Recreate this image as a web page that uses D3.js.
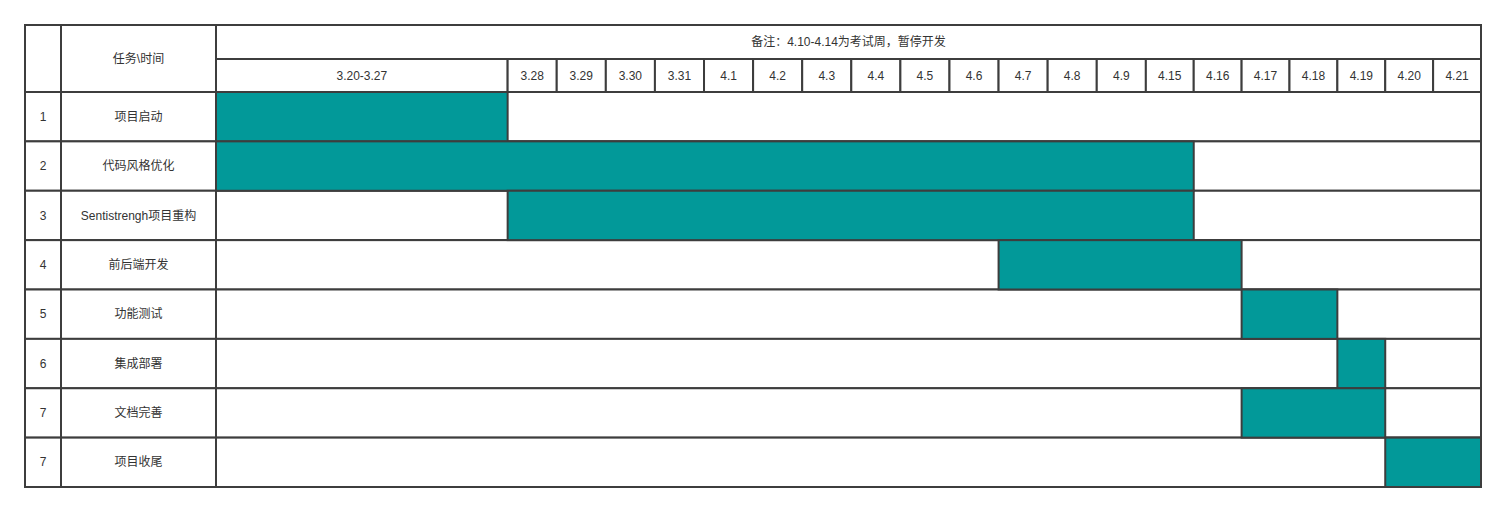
<!DOCTYPE html>
<meta charset="utf-8">
<style>
    body {margin: 0; background: #fff;}
    text {font-family: Arial, "Liberation Sans", "Noto Sans CJK SC", sans-serif; font-size: 12px; fill: #333;}
</style>
<svg width="1506" height="511"></svg>
<script src="https://d3js.org/d3.v7.min.js"></script>
<script>

// data
var note = "备注：4.10-4.14为考试周，暂停开发";
var headerTask = "任务\\时间";
var dateCols = ["3.20-3.27", "3.28", "3.29", "3.30", "3.31", "4.1", "4.2", "4.3", "4.4", "4.5", "4.6",
    "4.7", "4.8", "4.9", "4.15", "4.16", "4.17", "4.18", "4.19", "4.20", "4.21"];
var taskIds = ["1", "2", "3", "4", "5", "6", "7", "7"];
var taskNames = ["项目启动", "代码风格优化", "Sentistrengh项目重构", "前后端开发", "功能测试", "集成部署", "文档完善", "项目收尾"];
var taskStart = ["3.20-3.27", "3.20-3.27", "3.28", "4.7", "4.17", "4.19", "4.17", "4.20"];
var taskEnd = ["3.20-3.27", "4.15", "4.15", "4.16", "4.18", "4.19", "4.19", "4.21"];

var svg = d3.select("svg");

var tLeft = 25, tRight = 1481, tTop = 25, tBottom = 487,
    idW = 36, nameW = 155,
    noteH = 34, dateH = 33;
var gridLeft = tLeft + idW + nameW;
var bodyTop = tTop + noteH + dateH;
var stroke = "#3d3d3d", teal = "#029999";

// column widths: merged first column is six units, the later days a bit narrower
var colUnits = dateCols.map(function(d, i) { return i === 0 ? 6 : (i <= 13 ? 1.01 : 0.985); });
var edges = [0].concat(Array.from(d3.cumsum(colUnits)));
var x = d3.scaleLinear().domain([0, d3.sum(colUnits)]).range([gridLeft, tRight]);
function colX0(label) { return x(edges[dateCols.indexOf(label)]); }
function colX1(label) { return x(edges[dateCols.indexOf(label) + 1]); }

var y = d3.scaleBand().domain(d3.range(taskNames.length)).range([bodyTop, tBottom]);

var g = svg.append("g");

// header cells
g.append("rect").attr("x", tLeft).attr("y", tTop).attr("width", idW).attr("height", noteH + dateH)
    .attr("fill", "#fff").attr("stroke", stroke).attr("stroke-width", 2);
g.append("rect").attr("x", tLeft + idW).attr("y", tTop).attr("width", nameW).attr("height", noteH + dateH)
    .attr("fill", "#fff").attr("stroke", stroke).attr("stroke-width", 2);
g.append("text").attr("x", tLeft + idW + nameW / 2).attr("y", tTop + (noteH + dateH) / 2 + 1)
    .attr("text-anchor", "middle").attr("dominant-baseline", "middle").text(headerTask);

g.append("rect").attr("x", gridLeft).attr("y", tTop).attr("width", tRight - gridLeft).attr("height", noteH)
    .attr("fill", "#fff").attr("stroke", stroke).attr("stroke-width", 2);
g.append("text").attr("x", (gridLeft + tRight) / 2).attr("y", tTop + noteH / 2 + 1)
    .attr("text-anchor", "middle").attr("dominant-baseline", "middle").text(note);

var dates = g.append("g").selectAll("g").data(dateCols).enter().append("g");
dates.append("rect")
    .attr("x", function(d) { return colX0(d); })
    .attr("y", tTop + noteH)
    .attr("width", function(d) { return colX1(d) - colX0(d); })
    .attr("height", dateH)
    .attr("fill", "#fff").attr("stroke", stroke).attr("stroke-width", 2);
dates.append("text")
    .attr("x", function(d) { return (colX0(d) + colX1(d)) / 2; })
    .attr("y", tTop + noteH + dateH / 2 + 1)
    .attr("text-anchor", "middle").attr("dominant-baseline", "middle")
    .text(function(d) { return d; });

// body rows
var rows = g.append("g").selectAll("g").data(taskNames).enter().append("g");
rows.append("rect").attr("x", tLeft).attr("y", function(d, i) { return y(i); })
    .attr("width", idW).attr("height", y.bandwidth())
    .attr("fill", "#fff").attr("stroke", stroke).attr("stroke-width", 2);
rows.append("rect").attr("x", tLeft + idW).attr("y", function(d, i) { return y(i); })
    .attr("width", nameW).attr("height", y.bandwidth())
    .attr("fill", "#fff").attr("stroke", stroke).attr("stroke-width", 2);
rows.append("rect").attr("x", gridLeft).attr("y", function(d, i) { return y(i); })
    .attr("width", tRight - gridLeft).attr("height", y.bandwidth())
    .attr("fill", "#fff").attr("stroke", stroke).attr("stroke-width", 2);
rows.append("text").attr("x", tLeft + idW / 2).attr("y", function(d, i) { return y(i) + y.bandwidth() / 2 + 1; })
    .attr("text-anchor", "middle").attr("dominant-baseline", "middle")
    .text(function(d, i) { return taskIds[i]; });
rows.append("text").attr("x", tLeft + idW + nameW / 2).attr("y", function(d, i) { return y(i) + y.bandwidth() / 2 + 1; })
    .attr("text-anchor", "middle").attr("dominant-baseline", "middle")
    .text(function(d) { return d; });

// bars
g.append("g").selectAll("rect").data(taskNames).enter().append("rect")
    .attr("x", function(d, i) { return colX0(taskStart[i]); })
    .attr("y", function(d, i) { return y(i); })
    .attr("width", function(d, i) { return colX1(taskEnd[i]) - colX0(taskStart[i]); })
    .attr("height", y.bandwidth())
    .attr("fill", teal).attr("stroke", stroke).attr("stroke-width", 2);

</script>
